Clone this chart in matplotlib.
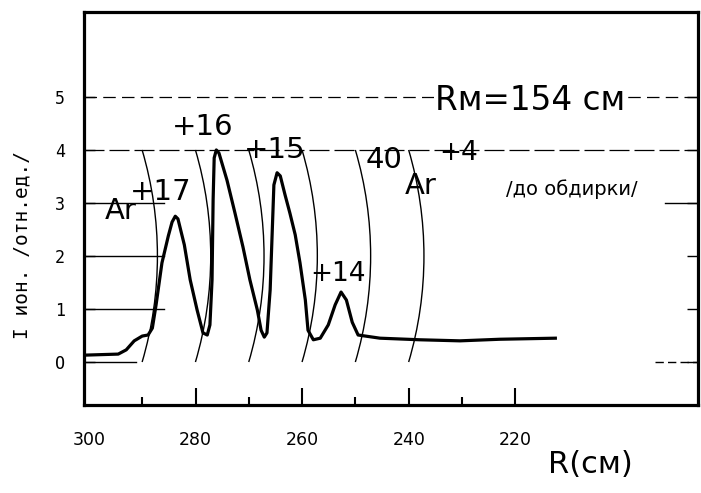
import matplotlib.pyplot as plt
import matplotlib.patches as mpatches
import numpy as np

# ion current vs radius
r_cm = [300.9, 294.5, 293.0, 291.5, 290.0, 288.9, 288.1, 287.4, 286.3, 285.1,
        284.4, 283.8, 283.3, 282.1, 281.0, 279.7, 278.6, 277.8, 277.3, 276.9,
        276.7, 276.5, 276.1, 275.6, 274.1, 272.6, 271.1, 269.8, 268.4, 267.7,
        267.1, 266.6, 266.0, 265.6, 265.3, 264.7, 264.1, 263.2, 262.3, 261.3,
        260.4, 259.4, 258.9, 257.9, 256.6, 255.1, 253.8, 252.7, 251.7, 250.6,
        249.5, 245.4, 237.9, 230.4, 222.9, 212.5]
i_ion = [0.13, 0.15, 0.23, 0.40, 0.49, 0.51, 0.64, 1.08, 1.87, 2.38,
         2.64, 2.75, 2.70, 2.21, 1.55, 0.98, 0.55, 0.51, 0.70, 1.55,
         3.06, 3.85, 4.00, 3.94, 3.43, 2.81, 2.17, 1.55, 0.98, 0.60,
         0.47, 0.55, 1.36, 2.49, 3.34, 3.57, 3.51, 3.15, 2.81, 2.40,
         1.87, 1.17, 0.60, 0.42, 0.45, 0.70, 1.08, 1.32, 1.17, 0.75,
         0.51, 0.45, 0.42, 0.40, 0.43, 0.45]

# guide arcs, each crossing I=0 and I=4 at this radius
arc_r = [290, 280, 270, 260, 250, 240]

xtick_vals = [300, 280, 260, 240, 220]
xminor_vals = [290, 270, 250, 230]
ytick_vals = [0, 1, 2, 3, 4, 5]

fig = plt.figure(figsize=(7.01, 4.93), dpi=100)
ax = fig.add_axes([0.12, 0.1785, 0.876, 0.797])
ax.set_xlim(300.9, 185.7)
ax.set_ylim(-0.81, 6.6)

# partial grid lines like the hand drawing
ax.axhline(5, color="k", lw=0.9, ls=(0, (10, 5)), zorder=1)
ax.axhline(4, color="k", lw=0.9, ls=(0, (16, 4)), zorder=1)
for v in [1, 2, 3]:
    ax.axhline(v, xmax=0.13, color="k", lw=1.0, zorder=1)
ax.axhline(0, xmax=0.085, color="k", lw=1.0, zorder=1)
ax.axhline(3, xmin=0.946, color="k", lw=1.0, zorder=1)
ax.axhline(0, xmin=0.93, color="k", lw=1.0, ls=(0, (6, 3)), zorder=1)

# arcs: chord from (r, 0) to (r, 4), bulging to smaller R
off = 67.5
half = np.degrees(np.arctan2(2.0, off))
for r0 in arc_r:
    ax.add_patch(mpatches.Arc((r0 + off, 2.0), 2 * 70.35, 14.15,
                              theta1=180 - half, theta2=180 + half,
                              color="k", lw=1.0, zorder=2))

ax.plot(r_cm, i_ion, color="k", lw=2.3, solid_joinstyle="round", zorder=3)

# ticks
ax.set_xticks(xtick_vals)
ax.set_xticks(xminor_vals, minor=True)
ax.set_yticks(ytick_vals)
ax.set_xticklabels([str(v) for v in xtick_vals], fontsize=12.5)
ax.set_yticklabels(["O", "1", "2", "3", "4", "5"], fontsize=12,
                   family="DejaVu Sans Mono")
ax.tick_params(axis="x", which="major", direction="in", length=12, width=1.5,
               pad=19, top=False)
ax.tick_params(axis="x", which="minor", direction="in", length=6, width=1.5,
               top=False)
ax.tick_params(axis="y", which="major", direction="in", length=8, width=1.0,
               left=True, right=True, pad=14)
ax.xaxis.get_major_ticks()[0].tick1line.set_visible(False)
for s in ax.spines.values():
    s.set_linewidth(2.3)

# labels and annotations
txt = dict(color="k", ha="center", va="center", zorder=4)
ax.text(278.6, 4.43, "+16", fontsize=21, **txt)
ax.text(265.1, 4.0, "+15", fontsize=21, **txt)
ax.text(294.0, 2.85, "Ar", fontsize=21, **txt)
ax.text(286.6, 3.2, "+17", fontsize=21, **txt)
ax.text(253.2, 1.66, "+14", fontsize=19, **txt)
ax.text(244.6, 3.81, "40", fontsize=21, **txt)
ax.text(237.7, 3.32, "Ar", fontsize=21, **txt)
ax.text(230.7, 3.94, "+4", fontsize=19, **txt)
ax.text(209.5, 3.26, "/до обдирки/", fontsize=14, **txt)
ax.text(217.2, 4.94, "Rм=154 см", fontsize=23.5,
        bbox=dict(facecolor="white", edgecolor="none", pad=1), **txt)

fig.text(0.842, 0.057, "R(см)", fontsize=22, ha="center", va="center")
fig.text(0.031, 0.503, "I ион. /отн.ед./", fontsize=14, rotation=90,
         ha="center", va="center", family="DejaVu Sans Mono")

fig.savefig("out.png", dpi=100)
